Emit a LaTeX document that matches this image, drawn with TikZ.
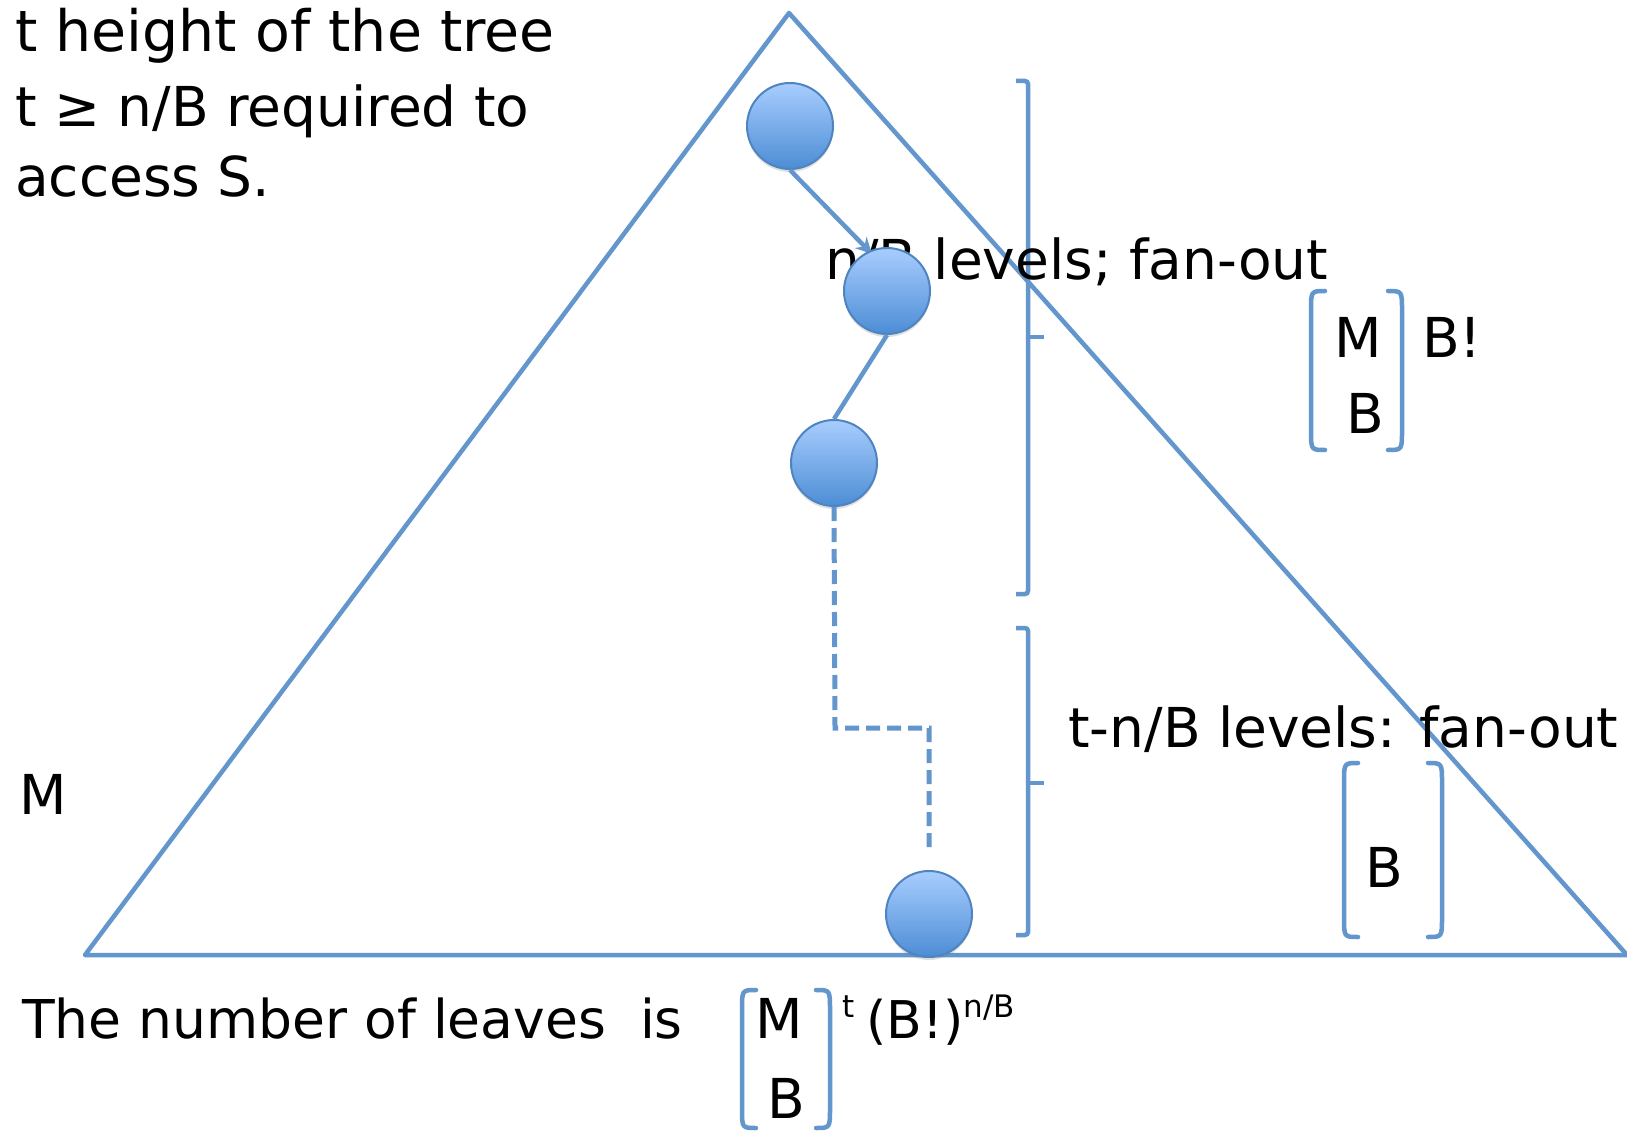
\documentclass[tikz,border=0pt]{standalone}
\usepackage{fontspec}
\setmainfont{DejaVu Sans}
\usetikzlibrary{arrows.meta,shadows}
\definecolor{lineblue}{RGB}{98,150,204}
\definecolor{ballTop}{RGB}{168,205,255}
\definecolor{ballBot}{RGB}{76,141,212}
\definecolor{ballEdge}{RGB}{78,132,192}
\newcommand\bparen[4]{%
  \draw[paren] ({#1+14},#3) .. controls (#1,#3) and (#1,#3) .. (#1,{#3+20}) -- (#1,{#4-20}) .. controls (#1,#4) and (#1,#4) .. ({#1+14},#4);
  \draw[paren] ({#2-14},#3) .. controls (#2,#3) and (#2,#3) .. (#2,{#3+20}) -- (#2,{#4-20}) .. controls (#2,#4) and (#2,#4) .. ({#2-14},#4);}
\begin{document}
\begin{tikzpicture}[x=1pt,y=-1pt,
  txt/.style={font=\fontsize{55}{60}\selectfont, inner sep=0pt, anchor=base west},
  ctxt/.style={font=\fontsize{55}{60}\selectfont, inner sep=0pt, anchor=base},
  stxt/.style={font=\fontsize{31}{34}\selectfont, inner sep=0pt, anchor=base west},
  ball/.style={circle, minimum size=86pt, inner sep=0pt, draw=ballEdge, line width=2pt,
    top color=ballTop, bottom color=ballBot,
    drop shadow={opacity=0.25, shadow xshift=0pt, shadow yshift=-3pt}},
  tri/.style={draw=lineblue, line width=4.5pt, line join=round},
  bracebox/.style={draw=lineblue, line width=4.5pt, rounded corners=3pt},
  paren/.style={draw=lineblue, line width=4.5pt, line cap=round},
  conn/.style={draw=lineblue, line width=4.5pt},
]
\useasboundingbox (0,0) rectangle (1627,1131);
\fill[white] (0,0) rectangle (1627,1131);
% triangle
\coordinate (apex) at (789,13);
\coordinate (bl) at (85,955);
\coordinate (br) at (1627,955);
\draw[tri] (apex) -- (bl) -- (br) -- cycle;
% braces
\draw[bracebox] (1016,81) -- (1028,81) -- (1028,594) -- (1016,594);
\draw[bracebox] (1028,337) -- (1044,337);
\draw[bracebox] (1016,628) -- (1028,628) -- (1028,935) -- (1016,935);
\draw[bracebox] (1028,783) -- (1044,783);
% parentheses
\bparen{1311}{1402}{291}{450}
\bparen{1344}{1442}{763}{937}
\bparen{742}{830}{990}{1128}
% texts
\node[txt, font=\fontsize{57}{60}\selectfont] (l1) at (15,52) {t height of the tree};
\node[txt] (l2) at (15,127) {t ≥ n/B required to};
\node[txt] (l3) at (15,197) {access S.};
\node[txt] (lvl1) at (825,280) {n/B levels; fan-out};
\node[txt] (lvl2) at (1068,747) {t-n/B levels: fan-out};
\node[txt] (m) at (19,814) {M};
\node[txt, font=\fontsize{53.5}{60}\selectfont] (leaves) at (22,1038) {The number of leaves\ \ is};
\node[ctxt] (b1m) at (1358,358) {M};
\node[ctxt] (b1b) at (1365,433) {B};
\node[txt] (b1f) at (1422,358) {B!};
\node[ctxt] (b2b) at (1384,887) {B};
\node[ctxt] (b3m) at (779,1038) {M};
\node[ctxt] (b3b) at (786,1118) {B};
\node[stxt, anchor=base] (sup1) at (849,1017) {t};
\node[txt, font=\fontsize{52}{60}\selectfont] (bang) at (866,1038) {(B!)};
\node[stxt] (nb) at (bang.base east) [yshift=21pt] {n/B};
% path nodes
\coordinate (d1) at (835,728);
\coordinate (d2) at (929,728);
\coordinate (d3) at (929,853);
\node[ball] (c1) at (790,126) {};
\draw[conn, -{Stealth[length=16pt,width=16pt]}] (c1.south) -- (872,254);
\node[ball] (c2) at (887,291) {};
\node[ball] (c3) at (834,463) {};
\node[ball] (c4) at (929,914) {};
\draw[conn] (c2.south) -- (c3.north);
\draw[conn, line width=5pt, dash pattern=on 14pt off 7pt, line join=miter] (c3.south) -- (d1) -- (d2) -- (d3);
\end{tikzpicture}
\end{document}
